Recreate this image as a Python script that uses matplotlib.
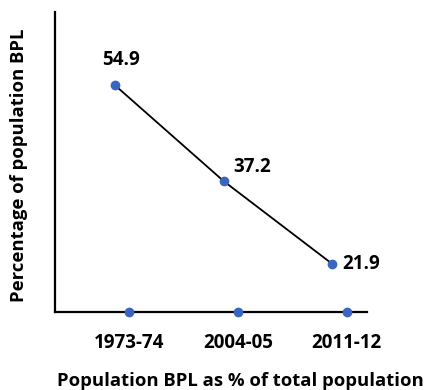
import numpy as np
import matplotlib
matplotlib.use("Agg")
import matplotlib.pyplot as plt

periods = ["1973-74", "2004-05", "2011-12"]
bpl_pct = [54.9, 37.2, 21.9]

plt.rcParams['font.family'] = ['Open Sans', 'DejaVu Sans']

blue = '#3A66C2'
x = np.arange(len(periods))
shift = 0.13  # tick labels / axis dots sit a little right of the line points

fig = plt.figure(figsize=(4.25, 3.9), dpi=100)
ax = fig.add_axes([0.129, 0.2, 0.735, 0.769])

ax.plot(x, bpl_pct, color='black', lw=1.3, marker='o', ms=6,
        mfc=blue, mec=blue, zorder=3)

# label placement per point
offsets = [(4, 11, 'center'), (7, 3, 'left'), (7, 0, 'left')]
for xi, v, (dx, dy, ha) in zip(x, bpl_pct, offsets):
    ax.annotate(f"{v}", (xi, v), xytext=(dx, dy), textcoords='offset points',
                ha=ha, va='bottom' if dy > 1 else 'center',
                fontsize=13.5, fontweight='bold')

ax.set_xlim(-0.553, 2.32)
ax.set_ylim(13.05, 68.4)

# dots sitting on the x axis
ax.plot(x + shift, [13.05] * len(x), 'o', ms=6, color=blue, clip_on=False, zorder=4)

ax.set_xticks(x + shift)
ax.set_xticklabels(periods, fontsize=13.5, fontweight='bold')
ax.set_yticks([])
ax.tick_params(axis='x', length=0, pad=15)

for s in ['top', 'right']:
    ax.spines[s].set_visible(False)
for s in ['left', 'bottom']:
    ax.spines[s].set_linewidth(1.6)
    ax.spines[s].set_color('black')

ax.set_xlabel("Population BPL as % of total population", fontsize=13.3,
              fontweight='bold')
ax.xaxis.set_label_coords(0.595, -0.2)
ax.set_ylabel("Percentage of population BPL", fontsize=13.3, fontweight='bold')
ax.yaxis.set_label_coords(-0.085, 0.49)

fig.savefig("out.png", dpi=100)
